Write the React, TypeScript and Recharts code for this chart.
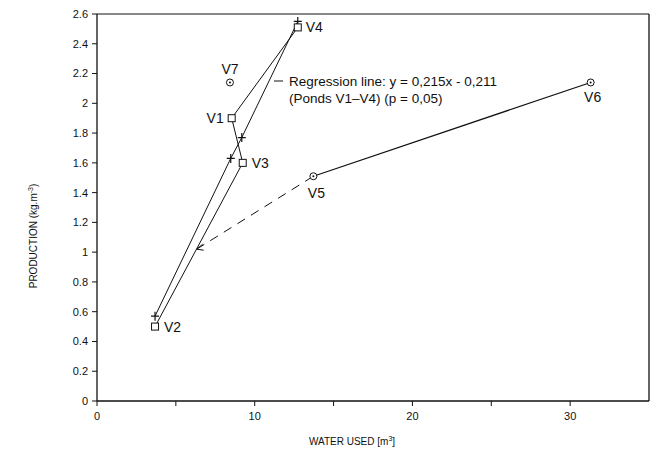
import { ScatterChart, Scatter, XAxis, YAxis, ReferenceLine, Label } from "recharts";

// ponds V1-V4, square markers (production)
const SQUARE_NAMES = ["V2", "V3", "V1", "V4"];
const SQUARE_X = [3.68, 9.24, 8.54, 12.73];
const SQUARE_Y = [0.5, 1.6, 1.9, 2.51];

// ponds V1-V4, plus markers (regression points)
const PLUS_X = [3.68, 8.48, 9.18, 12.73];
const PLUS_Y = [0.57, 1.63, 1.77, 2.55];

// ponds V5-V6, circle markers
const CIRCLE_NAMES = ["V5", "V6"];
const CIRCLE_X = [13.72, 31.3];
const CIRCLE_Y = [1.51, 2.14];

// dashed arrow into the V1-V4 line
const DASH_X = [6.32, 13.72];
const DASH_Y = [1.02, 1.51];

// V7, lone point
const SINGLE_NAMES = ["V7"];
const SINGLE_X = [8.43];
const SINGLE_Y = [2.14];

const X_TICKS = [0, 5, 10, 15, 20, 25, 30];
const Y_TICKS = [0, 0.2, 0.4, 0.6, 0.8, 1, 1.2, 1.4, 1.6, 1.8, 2, 2.2, 2.4, 2.6];

const INK = "#111";
const FONT = "'Liberation Sans', Arial, Helvetica, sans-serif";

// where each point name sits relative to its marker
const NAME_POS: Record<string, { dx: number; dy: number; anchor: "start" | "middle" | "end" }> = {
  V1: { dx: -8, dy: 5, anchor: "end" },
  V2: { dx: 9, dy: 5, anchor: "start" },
  V3: { dx: 9, dy: 5, anchor: "start" },
  V4: { dx: 8, dy: 5, anchor: "start" },
  V5: { dx: 3, dy: 22, anchor: "middle" },
  V6: { dx: 2, dy: 20, anchor: "middle" },
  V7: { dx: 0, dy: -8, anchor: "middle" },
};

const toPoints = (xs: number[], ys: number[], names?: string[]) =>
  xs.map((x, i) => ({ x, y: ys[i], name: names ? names[i] : "", tip: i === 0 }));

function Name({ cx, cy, name }: { cx: number; cy: number; name: string }) {
  const p = NAME_POS[name];
  if (!p) return null;
  return (
    <text x={cx + p.dx} y={cy + p.dy} textAnchor={p.anchor} fontSize={14} fontFamily={FONT} fill={INK}>
      {name}
    </text>
  );
}

function SquareMark(props: any) {
  const { cx, cy, payload } = props;
  return (
    <g>
      <rect x={cx - 3.5} y={cy - 3.5} width={7} height={7} fill="#fff" stroke={INK} strokeWidth={1} />
      <Name cx={cx} cy={cy} name={payload.name} />
    </g>
  );
}

function PlusMark(props: any) {
  const { cx, cy } = props;
  return (
    <path d={`M${cx - 4},${cy}H${cx + 4}M${cx},${cy - 4.5}V${cy + 4.5}`} stroke={INK} strokeWidth={1.2} fill="none" />
  );
}

function CircleMark(props: any) {
  const { cx, cy, payload } = props;
  return (
    <g>
      <circle cx={cx} cy={cy} r={3.5} fill="#fff" stroke={INK} strokeWidth={1} />
      <circle cx={cx} cy={cy} r={1} fill={INK} />
      <Name cx={cx} cy={cy} name={payload.name} />
    </g>
  );
}

function ArrowMark(props: any) {
  const { cx, cy, payload } = props;
  if (!payload.tip) return <g />;
  return (
    <path d={`M${cx + 6},${cy - 5}L${cx},${cy}L${cx + 7},${cy + 1}`} stroke={INK} strokeWidth={1} fill="none" />
  );
}

function XTitle() {
  return (
    <text x={352} y={445} textAnchor="middle" fontSize={10} fontFamily={FONT} fill={INK}>
      WATER USED [m<tspan dy={-4} fontSize={7}>3</tspan>
      <tspan dy={4}>]</tspan>
    </text>
  );
}

function YTitle() {
  return (
    <text
      x={37}
      y={236}
      transform="rotate(-90 37 236)"
      textAnchor="middle"
      fontSize={10}
      fontFamily={FONT}
      fill={INK}
    >
      PRODUCTION (kg.m<tspan dy={-4} fontSize={7}>-3</tspan>
      <tspan dy={4}>)</tspan>
    </text>
  );
}

function RegressionNote() {
  return (
    <g fontFamily={FONT} fontSize={13.5} fill={INK}>
      <line x1={274} y1={81} x2={283} y2={81} stroke={INK} strokeWidth={1} />
      <text x={289} y={86}>Regression line: y = 0,215x - 0,211</text>
      <text x={289} y={103}>(Ponds V1–V4) (p = 0,05)</text>
    </g>
  );
}

export default function App() {
  const tickStyle = { fill: INK, fontSize: 11, fontFamily: FONT };
  return (
    <div style={{ position: "absolute", left: 0, top: 0, background: "#fff" }}>
      <ScatterChart width={656} height={450} margin={{ top: 14, right: 7, bottom: 0, left: 0 }}>
        <XAxis
          type="number"
          dataKey="x"
          domain={[0, 35]}
          ticks={X_TICKS}
          allowDataOverflow
          tickFormatter={(v: number) => (v % 10 === 0 ? String(v) : "")}
          height={49}
          tickSize={5}
          tickMargin={6}
          tick={tickStyle}
          axisLine={{ stroke: INK, strokeWidth: 1.3 }}
          tickLine={{ stroke: INK }}
        >
          <Label content={() => <XTitle />} />
        </XAxis>
        <YAxis
          type="number"
          dataKey="y"
          domain={[0, 2.6]}
          ticks={Y_TICKS}
          allowDataOverflow
          width={97}
          tickSize={5}
          tickMargin={4}
          tick={tickStyle}
          axisLine={{ stroke: INK, strokeWidth: 1.3 }}
          tickLine={{ stroke: INK }}
        >
          <Label content={() => <YTitle />} />
        </YAxis>
        <ReferenceLine y={2.6} stroke={INK} strokeWidth={1} />
        <ReferenceLine x={35} stroke={INK} strokeWidth={1.3} label={() => <RegressionNote />} />
        <Scatter
          data={toPoints(DASH_X, DASH_Y)}
          line={{ stroke: INK, strokeWidth: 1, strokeDasharray: "9 7" }}
          lineType="joint"
          shape={ArrowMark}
          isAnimationActive={false}
        />
        <Scatter
          data={toPoints(PLUS_X, PLUS_Y)}
          line={{ stroke: INK, strokeWidth: 1 }}
          lineType="joint"
          shape={PlusMark}
          isAnimationActive={false}
        />
        <Scatter
          data={toPoints(SQUARE_X, SQUARE_Y, SQUARE_NAMES)}
          line={{ stroke: INK, strokeWidth: 1 }}
          lineType="joint"
          shape={SquareMark}
          isAnimationActive={false}
        />
        <Scatter
          data={toPoints(CIRCLE_X, CIRCLE_Y, CIRCLE_NAMES)}
          line={{ stroke: INK, strokeWidth: 1.2 }}
          lineType="joint"
          shape={CircleMark}
          isAnimationActive={false}
        />
        <Scatter
          data={toPoints(SINGLE_X, SINGLE_Y, SINGLE_NAMES)}
          shape={CircleMark}
          isAnimationActive={false}
        />
      </ScatterChart>
    </div>
  );
}
